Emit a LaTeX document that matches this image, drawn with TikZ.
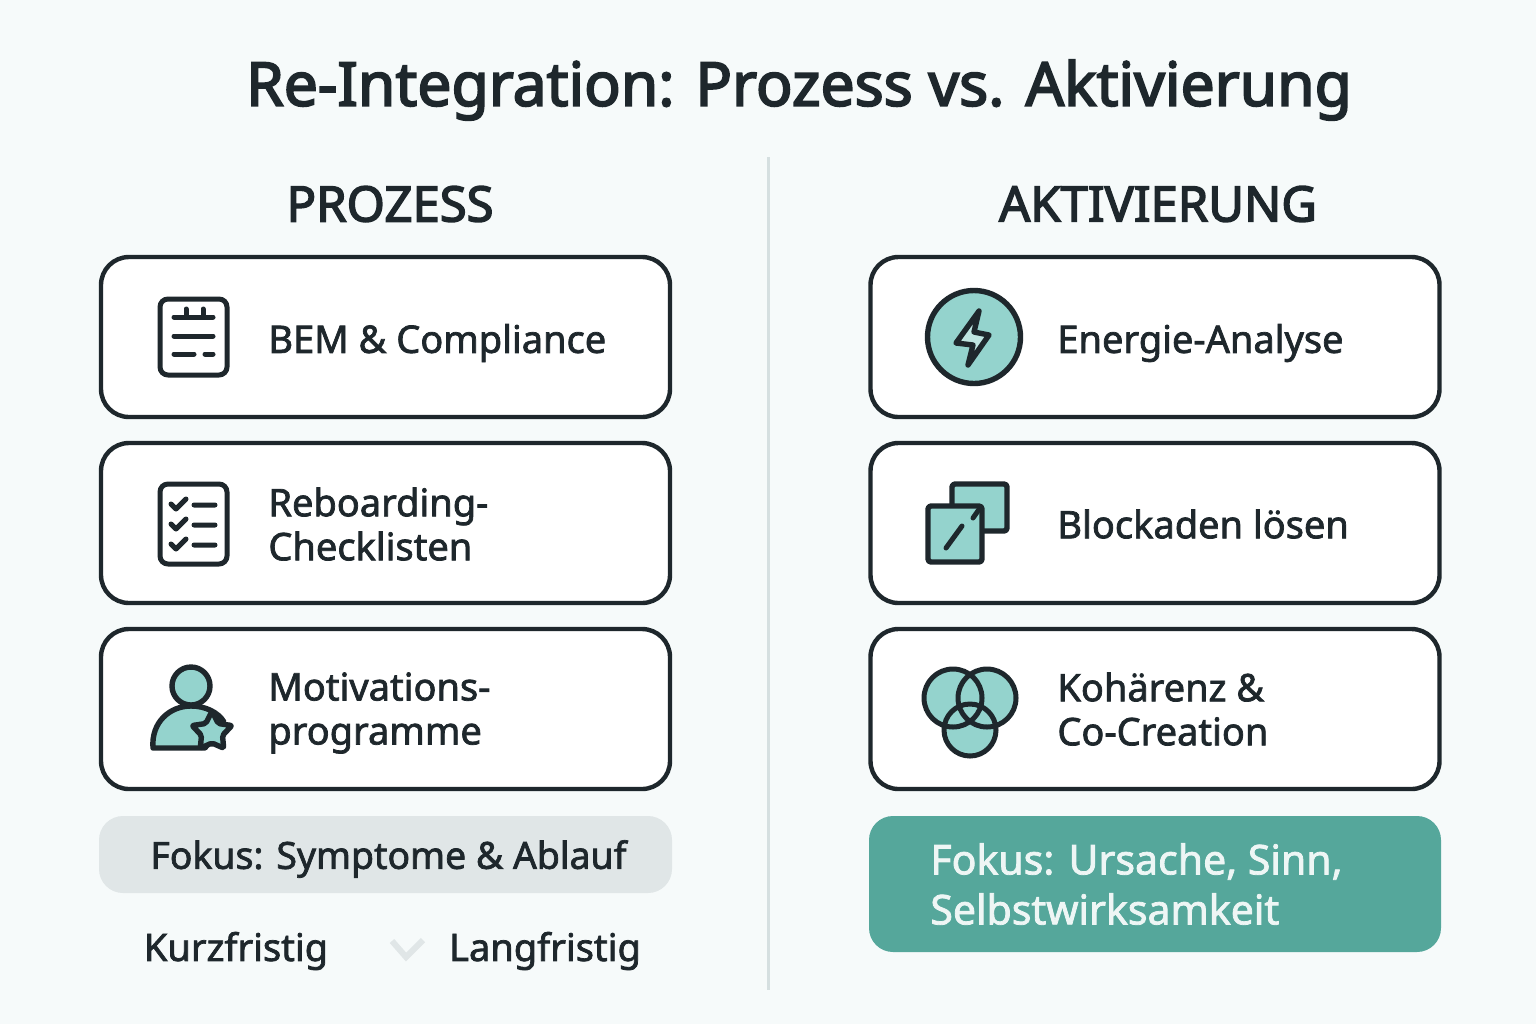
\documentclass[tikz,border=0pt]{standalone}
\usepackage{fontspec}
\setmainfont{Noto Sans}[RawFeature={embolden=1.9}]
\newfontfamily\headfont{Noto Sans}[RawFeature={embolden=3}]
\definecolor{ink}{HTML}{1E272C}
\definecolor{paper}{HTML}{F6FAFA}
\definecolor{aqua}{HTML}{94D3CD}
\definecolor{teal}{HTML}{55A79B}
\definecolor{mist}{HTML}{E0E6E7}
\definecolor{rule}{HTML}{D5DFE0}
\tikzset{
  card/.style={draw=ink,line width=2.2pt,fill=white,rounded corners=14pt,minimum width=284.5pt,minimum height=80pt},
  label/.style={anchor=west,align=left,inner sep=0pt,text=ink,font=\fontsize{19}{22}\selectfont},
  head/.style={text=ink,font=\fontsize{24.5}{28}\headfont},
  icon/.style={draw=ink,line width=2.5pt,line cap=round,line join=round},
  iconfill/.style={icon,fill=aqua,line width=2.7pt}
}
\begin{document}
\begin{tikzpicture}[x=0.5pt,y=-0.5pt]
  \fill[paper] (0,0) rectangle (1536,1024);
  \useasboundingbox (0,0) rectangle (1536,1024);
  \node[text=ink,font=\fontsize{30.3}{34}\headfont] (title) at (799,90) {Re-Integration: Prozess vs. Aktivierung};
  \coordinate (ruletop) at (768,157);
  \coordinate (rulebot) at (768,990);
  \draw[rule,line width=1.5pt] (ruletop) -- (rulebot);
  \node[head] (prozess) at (390,204) {PROZESS};
  \node[head] (aktiv) at (1158,204) {AKTIVIERUNG};
  % left cards
  \node[card] (bem) at (385.5,337) {};
  \node[card] (reboard) at (385.5,523) {};
  \node[card] (motiv) at (385.5,709) {};
  \node[label] (bemtext) at (268,343) {BEM \& Compliance};
  \node[label] (reboardtext) at (268,524) {Reboarding-\\Checklisten};
  \node[label] (motivtext) at (268,713) {Motivations-\\programme};
  % right cards
  \node[card] (energie) at (1155,337) {};
  \node[card] (blockade) at (1155,523) {};
  \node[card] (kohaerenz) at (1155,709) {};
  \node[label] (energietext) at (1057,343) {Energie-Analyse};
  \node[label] (blockadetext) at (1057,524) {Blockaden lösen};
  \node[label] (kohaerenztext) at (1057,709) {Kohärenz \&\\Co-Creation};
  % focus boxes
  \node[fill=mist,rounded corners=12pt,minimum width=286.5pt,minimum height=38.5pt] (fokusl) at (385.5,854.5) {};
  \node[text=ink,font=\fontsize{18.7}{22}\selectfont] (fokusltext) at (388.5,859) {Fokus: Symptome \& Ablauf};
  \node[fill=teal,rounded corners=12pt,minimum width=286pt,minimum height=68pt] (fokusr) at (1155,884) {};
  \node[anchor=west,align=left,inner sep=0pt,text=white!90!teal,font=\fontsize{20.5}{25}\selectfont] (fokusrtext) at (930,884) {Fokus: Ursache, Sinn,\\Selbstwirksamkeit};
  \node[label,anchor=center] (kurz) at (236,951) {Kurzfristig};
  \node[label,anchor=center] (lang) at (545,951) {Langfristig};
  \draw[mist,line width=3pt] (392,941) -- (406,957) -- (423,940);
  % icon document
  \draw[icon] (160,299) [rounded corners=4pt] rectangle (227,375);
  \draw[icon] (174,317) -- (213,317) (186,309) -- (186,317) (203,309) -- (203,317)
    (174,336) -- (213,336) (174,354) -- (194,354) (205,354) -- (213,354);
  % icon checklist
  \draw[icon] (160,484) [rounded corners=4pt] rectangle (227,564);
  \foreach \ypos in {505,525,545} {
    \draw[icon] (171,\ypos-1) -- (176,\ypos+4) -- (186,\ypos-6) (194,\ypos) -- (215,\ypos);
  }
  % icon person
  \draw[iconfill] (153,748) .. controls (151,722) and (170,706) .. (191,706) .. controls (205,706) and (218,712) .. (224,722) -- (205,748) -- cycle;
  \draw[iconfill] (191,686) circle (19);
  \coordinate (starbadge) at (212,732);
  \draw[iconfill,rounded corners=1pt] (starbadge) +(-90:21) -- +(-54:10.5) -- +(-18:21) -- +(18:11) -- +(54:20) -- +(90:11) -- +(126:20) -- +(162:11) -- +(198:21) -- +(234:10.5) -- cycle;
  % icon bolt
  \draw[iconfill] (974,337) circle (46.5);
  \draw[iconfill,fill=aqua!60!white] (979,311) -- (956,343) -- (973,345) -- (968,365) -- (989,335) -- (974,332) -- cycle;
  % icon squares
  \draw[iconfill,rounded corners=1.5pt] (952,484) rectangle (1007,531);
  \draw[iconfill,rounded corners=1.5pt] (928,506) rectangle (982,562);
  \draw[icon] (946,548) -- (962,526) (973,518) -- (980,508);
  % icon circles
  \fill[aqua] (953,698) circle (29) (987,698) circle (29) (970,730) circle (26);
  \draw[icon] (953,698) circle (29) (987,698) circle (29) (970,730) circle (26);
\end{tikzpicture}
\end{document}
